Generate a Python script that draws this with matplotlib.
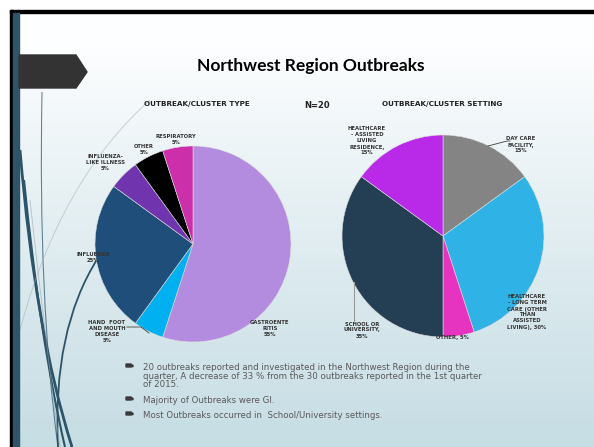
import numpy as np
import matplotlib
matplotlib.use('Agg')
import matplotlib.pyplot as plt
from matplotlib.patches import Rectangle, Polygon
from matplotlib.path import Path
from matplotlib.patches import PathPatch

# outbreak / cluster type (left pie)
type_labels = ['GASTROENTE\nRITIS\n55%', 'HAND  FOOT\nAND MOUTH\nDISEASE\n5%', 'INFLUENZA\n25%',
               'INFLUENZA-\nLIKE ILLNESS\n5%', 'OTHER\n5%', 'RESPIRATORY\n5%']
type_values = [55, 5, 25, 5, 5, 5]
type_colors = ['#b38ce0', '#00b0f0', '#1f4e7a', '#7034ae', '#000000', '#cc2fa9']

# outbreak / cluster setting (right pie)
setting_labels = ['DAY CARE\nFACILITY,\n15%', 'HEALTHCARE\n- LONG TERM\nCARE (OTHER\nTHAN\nASSISTED\nLIVING), 30%',
                  'OTHER, 5%', 'SCHOOL OR\nUNIVERSITY,\n35%', 'HEALTHCARE\n- ASSISTED\nLIVING\nRESIDENCE,\n15%']
setting_values = [15, 30, 5, 35, 15]
setting_colors = ['#848484', '#2fb3e6', '#e734c0', '#243f53', '#b82ae8']

bullets = ['20 outbreaks reported and investigated in the Northwest Region during the\n'
           'quarter, A decrease of 33 % from the 30 outbreaks reported in the 1st quarter\n'
           'of 2015.',
           'Majority of Outbreaks were GI.',
           'Most Outbreaks occurred in  School/University settings.']

W, H = 594, 447
fig = plt.figure(figsize=(W / 100, H / 100), dpi=100)

# background in pixel coordinates
bg = fig.add_axes([0, 0, 1, 1])
bg.axis('off')

grad = np.linspace(0, 1, 256)
grad = np.clip((grad - 0.08) / 0.92, 0, 1) ** 0.9
top = np.array([0.995, 0.997, 1.0])
bot = np.array([0.776, 0.867, 0.894])
img = top[None, :] * (1 - grad[:, None]) + bot[None, :] * grad[:, None]
img = np.repeat(img[:, None, :], 2, axis=1)
bg.imshow(img, extent=[19, W, H, 12], aspect='auto', zorder=0)
bg.set_xlim(0, W)
bg.set_ylim(H, 0)

bg.add_patch(Rectangle((10, 9.5), W - 10, 3, color='black', zorder=2))
bg.add_patch(Rectangle((10, 9.5), 3, H, color='black', zorder=2))
bg.add_patch(Rectangle((13, 12.5), 6, H, color='#2d5468', zorder=2))
bg.add_patch(Polygon([(19, 55), (76, 55), (87, 72), (76, 88), (19, 88)], color='#333333', zorder=3))

# decorative curves
curves = [((20, 150), (35, 330), (72, 447), 2.0, '#2d5468', 1),
          ((24, 180), (40, 340), (65, 447), 1.5, '#2d5468', 1),
          ((42, 92), (38, 300), (58, 447), 0.8, '#2d5468', 0.7),
          ((98, 258), (52, 330), (58, 447), 1.3, '#2d5468', 1),
          ((150, 100), (60, 180), (20, 330), 0.6, '#9fb0b8', 0.6),
          ((30, 200), (50, 380), (60, 447), 0.6, '#8ea5b0', 0.6)]
for p0, p1, p2, lw, c, a in curves:
    path = Path([p0, p1, p2], [Path.MOVETO, Path.CURVE3, Path.CURVE3])
    bg.add_patch(PathPatch(path, fill=False, lw=lw, ec=c, alpha=a, zorder=1))


def pie_axes(cx, cy, r):
    return fig.add_axes([(cx - r) / W, (H - cy - r) / H, 2 * r / W, 2 * r / H])


ax1 = pie_axes(193, 244, 98)
ax1.pie(type_values, colors=type_colors, startangle=90, counterclock=False,
        wedgeprops=dict(linewidth=0.4, edgecolor='#dddddd'))
ax1.set_xlim(-1, 1)
ax1.set_ylim(-1, 1)

ax2 = pie_axes(443, 236, 101)
ax2.pie(setting_values, colors=setting_colors, startangle=90, counterclock=False,
        wedgeprops=dict(linewidth=0.4, edgecolor='#dddddd'))
ax2.set_xlim(-1, 1)
ax2.set_ylim(-1, 1)

# text layer on top of pies
top_ax = fig.add_axes([0, 0, 1, 1], facecolor='none')
top_ax.set_xlim(0, W)
top_ax.set_ylim(H, 0)
top_ax.axis('off')

font = 'DejaVu Sans'
top_ax.text(311, 66, 'Northwest Region Outbreaks', fontsize=12.5, fontweight='bold',
            fontfamily=['Lato', 'DejaVu Sans'], ha='center', va='center', color='#000000')
top_ax.text(197, 104, 'OUTBREAK/CLUSTER TYPE', fontsize=5.2, fontweight='bold', fontfamily=font,
            ha='center', va='center', color='#222222')
top_ax.text(317, 105, 'N=20', fontsize=6, fontweight='bold', fontfamily=font,
            ha='center', va='center', color='#222222')
top_ax.text(442, 104, 'OUTBREAK/CLUSTER SETTING', fontsize=5.2, fontweight='bold', fontfamily=font,
            ha='center', va='center', color='#222222')

lab = dict(fontsize=3.8, fontweight='bold', fontfamily=font, ha='center', va='center',
           color='#333333', linespacing=1.25)
type_pos = [(270, 329), (107, 331), (93, 257), (105, 162), (144, 150), (176, 139)]
for t, (x, y) in zip(type_labels, type_pos):
    top_ax.text(x, y, t, **lab)
setting_pos = [(521, 145), (527, 312), (452, 338), (362, 330), (367, 141)]
for t, (x, y) in zip(setting_labels, setting_pos):
    top_ax.text(x, y, t, **lab)

# leader lines
top_ax.plot([127, 141, 149], [327, 327, 333], color='#404040', lw=0.6)
top_ax.plot([488, 507, 510], [146, 141, 141], color='#404040', lw=0.6)
top_ax.plot([354, 354], [282, 322], color='#9a9a9a', lw=0.8)

# bullet text
by = [367, 400, 415]
for t, y in zip(bullets, by):
    top_ax.add_patch(Polygon([(126, y - 3), (131, y - 3), (133, y - 1.5), (133, y - 0.5), (131, y), (126, y)],
                             color='#3a3a3a'))
    top_ax.text(143, y - 4, t, fontsize=6.2, fontfamily=font, ha='left', va='top',
                color='#595959', linespacing=0.95)

fig.savefig('out.png', dpi=100)
